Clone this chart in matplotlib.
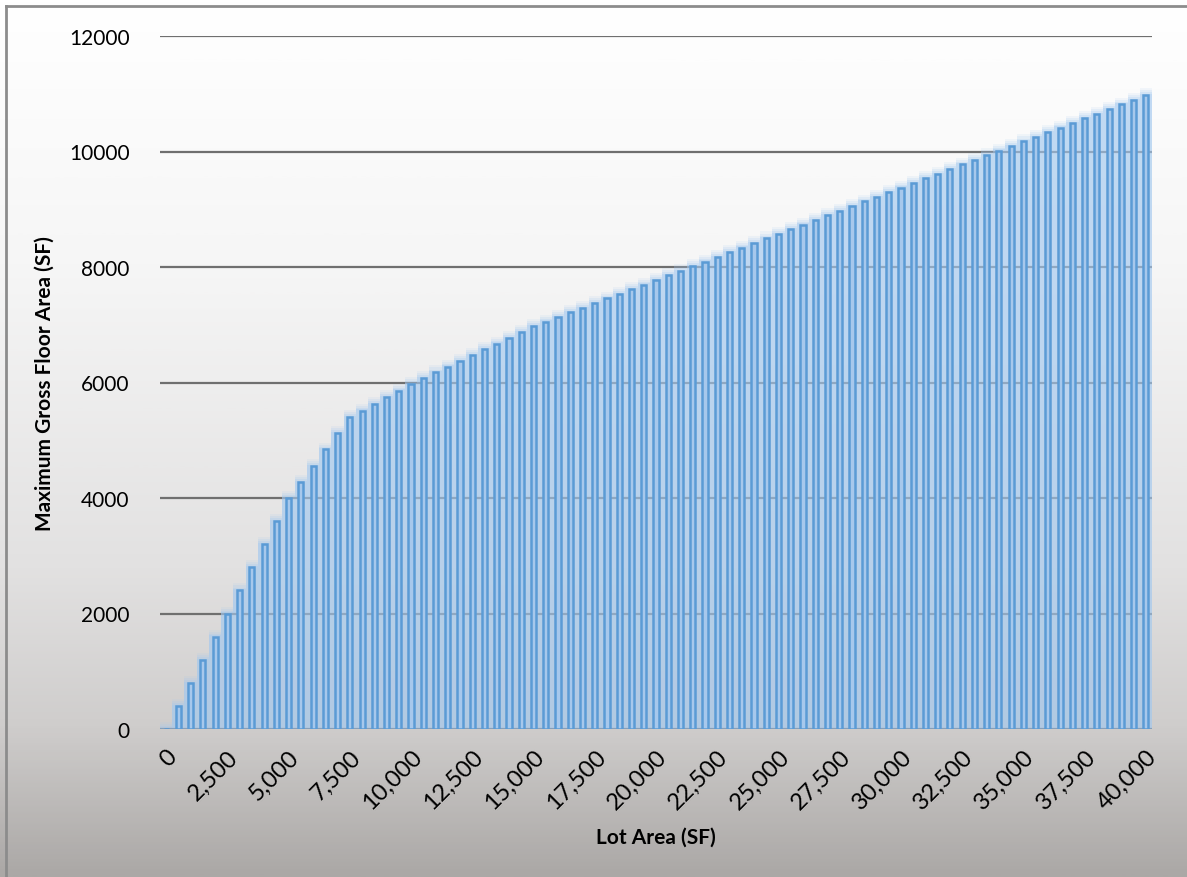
import numpy as np
import matplotlib.pyplot as plt
from matplotlib.colors import LinearSegmentedColormap
from matplotlib.lines import Line2D

plt.rcParams['font.family'] = ['Lato', 'DejaVu Sans']

lot_area = list(range(0, 40001, 500))
max_gfa = [0, 400, 800, 1200, 1600, 2000, 2400, 2800, 3200, 3600,
           4000, 4280, 4560, 4840, 5120, 5400, 5515, 5630, 5745, 5860,
           5975, 6075, 6175, 6275, 6375, 6475, 6575, 6675, 6775, 6875,
           6975, 7055, 7135, 7215, 7295, 7375, 7455, 7535, 7615, 7695,
           7775, 7855, 7935, 8015, 8095, 8175, 8255, 8335, 8415, 8495,
           8575, 8655, 8735, 8815, 8895, 8975, 9055, 9135, 9215, 9295,
           9375, 9455, 9535, 9615, 9695, 9775, 9855, 9935, 10015, 10095,
           10175, 10255, 10335, 10415, 10495, 10575, 10655, 10735, 10815, 10895,
           10975]
tick_labels = ['{:,}'.format(v) if v % 2500 == 0 else '' for v in lot_area]

W, H = 1187, 878
fig = plt.figure(figsize=(W / 100, H / 100), dpi=100)

# background gradient, white at the top to warm gray at the bottom
bg = fig.add_axes([0, 0, 1, 1], zorder=-10)
cmap = LinearSegmentedColormap.from_list('bg', [(0.0, '#ffffff'), (0.3, '#f6f6f6'),
                                                (0.65, '#e2e1e1'), (0.83, '#cfcdcc'),
                                                (1.0, '#aba8a6')])
grad = np.linspace(0, 1, 400).reshape(-1, 1)
bg.imshow(grad, cmap=cmap, aspect='auto', extent=[0, 1, 1, 0])
bg.set_axis_off()

# thin frame on the left and top
fig.add_artist(Line2D([6 / W, 6 / W], [0, 1 - 7 / H], color='#8c8c8c', lw=2))
fig.add_artist(Line2D([6 / W, 1], [1 - 7 / H, 1 - 7 / H], color='#8c8c8c', lw=2))

ax = fig.add_axes([160 / W, (H - 730) / H, 992 / W, 693 / H])
ax.set_facecolor('none')

x = np.arange(len(lot_area))
vals = np.array(max_gfa)

# soft glow around each bar
for extra, a in [(120, 0.12), (85, 0.18), (50, 0.25), (20, 0.35)]:
    ax.bar(x, vals + extra, width=1.0, color='#a3c9f0', alpha=a, lw=0, zorder=2)
ax.bar(x, vals, width=0.42, color='#a7c8ec', edgecolor='#5b9bd5', lw=1.8, zorder=3)

ax.set_xlim(-0.5, len(lot_area) - 0.5)
ax.set_ylim(0, 12000)
ax.set_yticks(range(0, 12001, 2000))
ax.yaxis.grid(True, color='#6f6f6f', lw=1.6, zorder=1)
ax.set_axisbelow(True)
for s in ax.spines.values():
    s.set_visible(False)
ax.axhline(0, color='#555555', lw=2, zorder=1.5)

ax.set_xticks(x)
ax.set_xticklabels(tick_labels, rotation=45, ha='right', rotation_mode='anchor', fontsize=17)
ax.tick_params(axis='x', length=0, pad=12)
ax.tick_params(axis='y', length=0, pad=22, labelsize=15)

ax.set_xlabel('Lot Area (SF)', fontsize=15, fontweight='bold', labelpad=10)
ax.set_ylabel('Maximum Gross Floor Area (SF)', fontsize=15, fontweight='bold', labelpad=10)

fig.savefig('out.png', dpi=100)
